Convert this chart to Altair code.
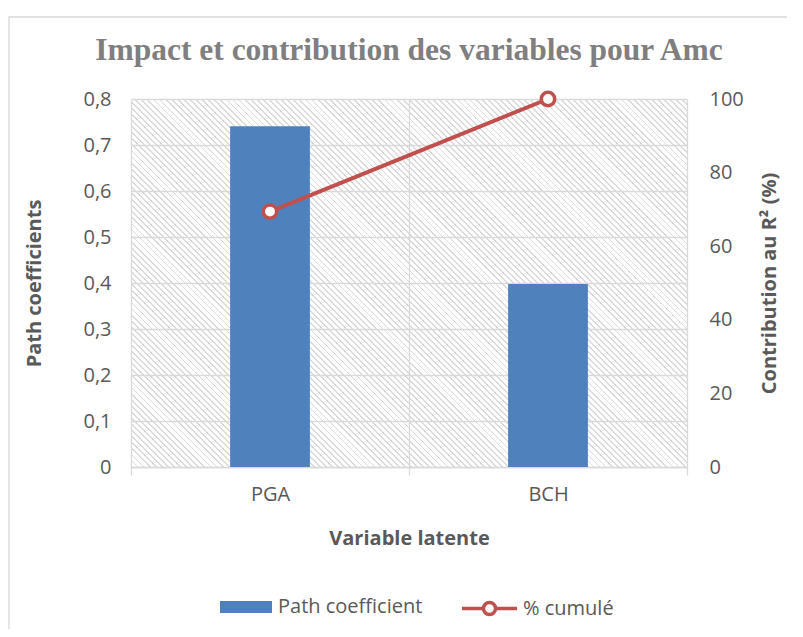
import math
import altair as alt
import pandas as pd

# ---- data ----
categories = ["PGA", "BCH"]
path_coefficient = [0.741, 0.398]
cumulative_pct = [69.4, 100.0]
y_left_ticks = [0, 0.1, 0.2, 0.3, 0.4, 0.5, 0.6, 0.7, 0.8]
y_right_ticks = [0, 20, 40, 60, 80, 100]

df = pd.DataFrame({
    "cat": categories,
    "path": path_coefficient,
    "cumul": cumulative_pct,
    "s_bar": ["Path coefficient"] * len(categories),
    "s_line": ["% cumulé"] * len(categories),
})

W, H = 556, 368
BLUE = "#4f81bd"
RED = "#c0504d"
GRID = "#d9d9d9"
TXT = "#595959"
FONT = "Open Sans"

# ---- hatch pattern via a striped linear gradient (45 degree lines) ----
r = H / W
s = (1 + r) / (1 + r * r)
D = (W + H) / math.sqrt(2)
pitch = 4.3
N = int(round(D / pitch))
frac = 0.3
hatch_col = "#dadada"
clear = "rgba(255,255,255,0)"
stops = []
for i in range(N):
    a = i / N
    b = (i + frac) / N
    c = (i + 1) / N
    stops += [
        alt.GradientStop(offset=a, color=hatch_col),
        alt.GradientStop(offset=b, color=hatch_col),
        alt.GradientStop(offset=b, color=clear),
        alt.GradientStop(offset=c, color=clear),
    ]
grad = alt.LinearGradient(gradient="linear", stops=stops, x1=0, y1=1, x2=s, y2=1 - s * r)

one = alt.Data(values=[{}])

frame = alt.Chart(one).mark_rect(fillOpacity=0, stroke=GRID, strokeWidth=1.3).encode(
    x=alt.value(-122), x2=alt.value(W + 140), y=alt.value(-82), y2=alt.value(H + 200)
)

hatch = alt.Chart(one).mark_rect(fill=grad).encode(
    x=alt.value(0), x2=alt.value("width"), y=alt.value(0), y2=alt.value("height")
)

x_enc = alt.X(
    "cat:N",
    sort=categories,
    scale=alt.Scale(paddingInner=0, paddingOuter=0),
    axis=alt.Axis(
        title="Variable latente",
        labelAngle=0,
        grid=True,
        tickBand="extent",
        gridColor=GRID,
        gridWidth=1.3,
        domainColor=GRID,
        domainWidth=1.3,
        tickColor=GRID,
        tickWidth=1.3,
        tickSize=8,
        labelPadding=9,
        titlePadding=24,
    ),
)

bars = alt.Chart(df).mark_bar(width=alt.RelativeBandSize(0.287), color=BLUE).encode(
    x=x_enc,
    y=alt.Y(
        "path:Q",
        scale=alt.Scale(domain=[0, 0.8], nice=False),
        axis=alt.Axis(
            title="Path coefficients",
            values=y_left_ticks,
            grid=True,
            gridColor=GRID,
            gridWidth=1.3,
            domain=False,
            ticks=False,
            labelPadding=20,
            titlePadding=38,
            labelExpr="datum.value == 0 ? '0' : replace(format(datum.value, '.1f'), '.', ',')",
        ),
    ),
    fill=alt.Fill(
        "s_bar:N",
        scale=alt.Scale(domain=["Path coefficient"], range=[BLUE]),
        legend=alt.Legend(
            title=None,
            orient="none",
            legendX=89,
            legendY=482,
            symbolType="M-1,-0.23H1V0.23H-1Z",
            symbolSize=2704,
            symbolStrokeWidth=0,
            labelOffset=6,
        ),
    ),
)

y_right = alt.Y(
    "cumul:Q",
    scale=alt.Scale(domain=[0, 100], nice=False),
    axis=alt.Axis(
        title="Contribution au R² (%)",
        orient="right",
        values=y_right_ticks,
        grid=False,
        domain=False,
        ticks=False,
        labelPadding=22,
        titlePadding=36,
        titleAngle=270,
    ),
)

line = alt.Chart(df).mark_line(strokeWidth=4, color=RED).encode(
    x=x_enc,
    y=y_right,
    stroke=alt.Stroke(
        "s_line:N",
        scale=alt.Scale(domain=["% cumulé"], range=[RED]),
        legend=alt.Legend(
            title=None,
            orient="none",
            legendX=329,
            legendY=480,
            symbolType="M-1,0H-0.22M0.22,0H1M-0.22,0A0.22,0.22,0,1,1,0.22,0A0.22,0.22,0,1,1,-0.22,0Z",
            symbolSize=3025,
            symbolStrokeWidth=3.5,
            symbolFillColor="white",
            labelOffset=4,
        ),
    ),
)

points = alt.Chart(df).mark_point(
    filled=True, fill="white", stroke=RED, strokeWidth=3.5, size=180, opacity=1
).encode(x=x_enc, y=y_right)

right = alt.layer(line, points)

chart = (
    alt.layer(frame, hatch, bars, right)
    .resolve_scale(y="independent", fill="independent", stroke="independent")
    .properties(
        width=W,
        height=H,
        autosize=alt.AutoSizeParams(type="none"),
        padding={"left": 123, "top": 91, "right": 100, "bottom": 162},
        title=alt.TitleParams(
            text="Impact et contribution des variables pour Amc",
            font="Liberation Serif",
            fontSize=31.5,
            fontWeight="bold",
            color="#7f7f7f",
            anchor="middle",
            frame="group",
            offset=-50,
        ),
    )
    .configure_view(stroke="transparent")
    .configure_axis(
        labelFont=FONT,
        labelFontSize=20,
        labelColor=TXT,
        titleFont=FONT,
        titleFontSize=20,
        titleFontWeight="bold",
        titleColor=TXT,
    )
    .configure_legend(labelFont=FONT, labelFontSize=20, labelColor=TXT)
)

chart.save("out.html", embed_options={"renderer": "svg", "actions": False})
